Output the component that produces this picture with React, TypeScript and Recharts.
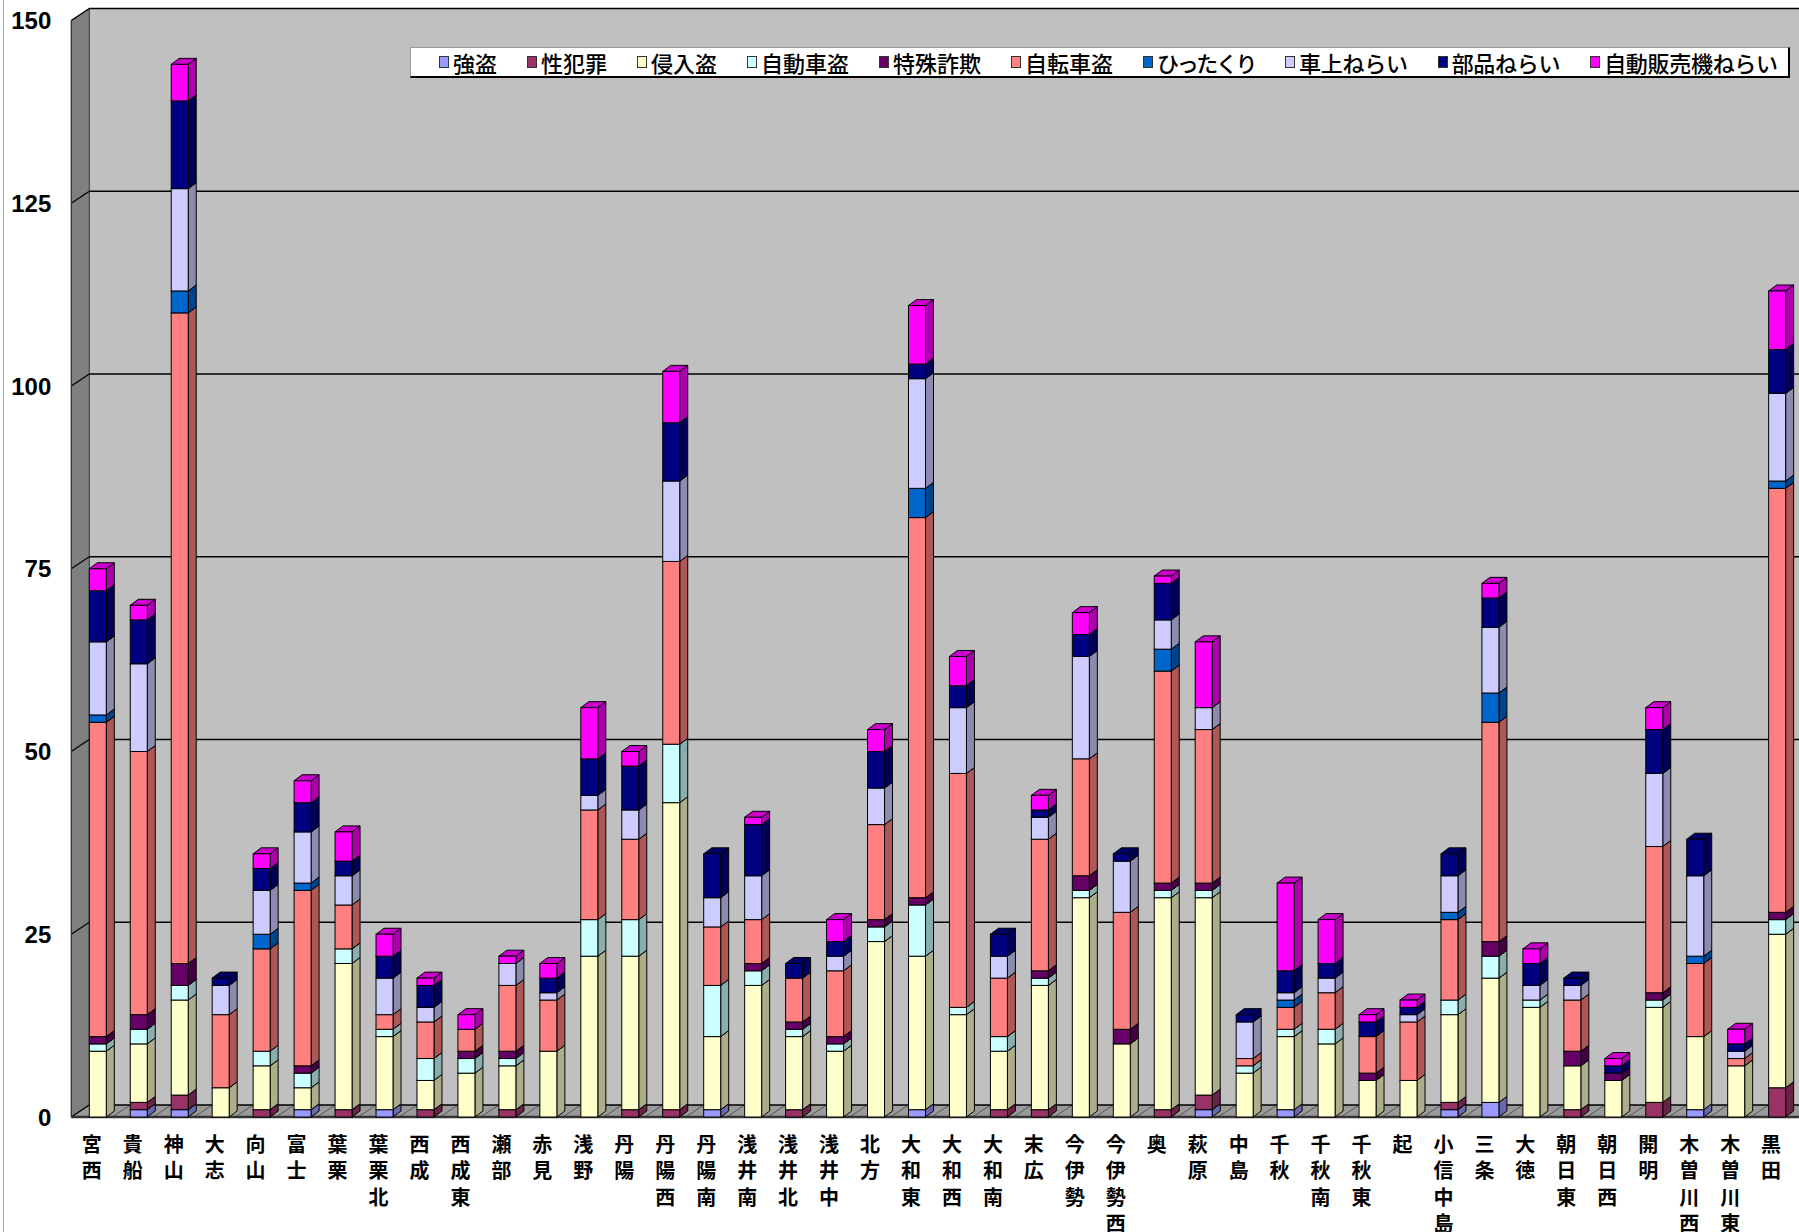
import React from 'react';
import { BarChart, Bar, XAxis, YAxis, ReferenceArea } from 'recharts';

const categories = [
  '宮西', '貴船', '神山', '大志', '向山', '富士', '葉栗', '葉栗北', '西成', '西成東',
  '瀬部', '赤見', '浅野', '丹陽', '丹陽西', '丹陽南', '浅井南', '浅井北', '浅井中', '北方',
  '大和東', '大和西', '大和南', '末広', '今伊勢', '今伊勢西', '奥', '萩原', '中島', '千秋',
  '千秋南', '千秋東', '起', '小信中島', '三条', '大徳', '朝日東', '朝日西', '開明', '木曽川西',
  '木曽川東', '黒田',
];

const seriesNames = ['強盗', '性犯罪', '侵入盗', '自動車盗', '特殊詐欺', '自転車盗', 'ひったくり', '車上ねらい', '部品ねらい', '自動販売機ねらい'];
const seriesColors = ['#9999FF', '#993366', '#FFFFCC', '#CCFFFF', '#660066', '#FF8080', '#0066CC', '#CCCCFF', '#000080', '#FF00FF'];

const robbery =      [0, 1, 1, 0, 0, 1, 0, 1, 0, 0, 0, 0, 0, 0, 0, 1, 0, 0, 0, 0, 1, 0, 0, 0, 0, 0, 0, 1, 0, 1, 0, 0, 0, 1, 2, 0, 0, 0, 0, 1, 0, 0];
const sexCrime =     [0, 1, 2, 0, 1, 0, 1, 0, 1, 0, 1, 0, 0, 1, 1, 0, 0, 1, 0, 0, 0, 0, 1, 1, 0, 0, 1, 2, 0, 0, 0, 0, 0, 1, 0, 0, 1, 0, 2, 0, 0, 4];
const burglary =     [9, 8, 13, 4, 6, 3, 20, 10, 4, 6, 6, 9, 22, 21, 42, 10, 18, 10, 9, 24, 21, 14, 8, 17, 30, 10, 29, 27, 6, 10, 10, 5, 5, 12, 17, 15, 6, 5, 13, 10, 7, 21];
const carTheft =     [1, 2, 2, 0, 2, 2, 2, 1, 3, 2, 1, 0, 5, 5, 8, 7, 2, 1, 1, 2, 7, 1, 2, 1, 1, 0, 1, 1, 1, 1, 2, 0, 0, 2, 3, 1, 0, 0, 1, 0, 0, 2];
const specialFraud = [1, 2, 3, 0, 0, 1, 0, 0, 0, 1, 1, 0, 0, 0, 0, 0, 1, 1, 1, 1, 1, 0, 0, 1, 2, 2, 1, 1, 0, 0, 0, 1, 0, 0, 2, 0, 2, 1, 1, 0, 0, 1];
const bicycleTheft = [43, 36, 89, 10, 14, 24, 6, 2, 5, 3, 9, 7, 15, 11, 25, 8, 6, 6, 9, 13, 52, 32, 8, 18, 16, 16, 29, 21, 1, 3, 5, 5, 8, 11, 30, 0, 7, 0, 20, 10, 1, 58];
const snatching =    [1, 0, 3, 0, 2, 1, 0, 0, 0, 0, 0, 0, 0, 0, 0, 0, 0, 0, 0, 0, 4, 0, 0, 0, 0, 0, 3, 0, 0, 1, 0, 0, 0, 1, 4, 0, 0, 0, 0, 1, 0, 1];
const carBreakIn =   [10, 12, 14, 4, 6, 7, 4, 5, 2, 0, 3, 1, 2, 4, 11, 4, 6, 0, 2, 5, 15, 9, 3, 3, 14, 7, 4, 3, 5, 1, 2, 0, 1, 5, 9, 2, 2, 0, 10, 11, 1, 12];
const partsTheft =   [7, 6, 12, 1, 3, 4, 2, 3, 3, 0, 0, 2, 5, 6, 8, 6, 7, 2, 2, 5, 2, 3, 3, 1, 3, 1, 5, 0, 1, 3, 2, 2, 1, 3, 4, 3, 1, 1, 6, 5, 1, 6];
const vendingTheft = [3, 2, 5, 0, 2, 3, 4, 3, 1, 2, 1, 2, 7, 2, 7, 0, 1, 0, 3, 3, 8, 4, 0, 2, 3, 0, 1, 9, 0, 12, 6, 1, 1, 0, 2, 2, 0, 1, 3, 0, 2, 8];

const seriesValues = [robbery, sexCrime, burglary, carTheft, specialFraud, bicycleTheft, snatching, carBreakIn, partsTheft, vendingTheft];
const yTicks = [0, 25, 50, 75, 100, 125, 150];
const yMax = 150;

const data = categories.map((name, i) => {
  const row: Record<string, any> = { name };
  seriesValues.forEach((arr, s) => { row['s' + s] = arr[i]; });
  return row;
});

const DX = 8;
const DY = 6;
const SHIFT = 6;
const WALL_DX = 18;
const WALL_DY = 12;

function shade(hex: string, f: number) {
  const n = parseInt(hex.slice(1), 16);
  const r = Math.round(((n >> 16) & 255) * f);
  const g = Math.round(((n >> 8) & 255) * f);
  const b = Math.round((n & 255) * f);
  return `rgb(${r},${g},${b})`;
}

const Bar3D = (props: any) => {
  const { x, y, width, height, fill } = props;
  if (!height || height <= 0.01) return <g />;
  const x0 = x + SHIFT;
  const x1 = x0 + width;
  const yt = y;
  const yb = y + height;
  return (
    <g>
      <polygon
        points={`${x1},${yb} ${x1 + DX},${yb - DY} ${x1 + DX},${yt - DY} ${x1},${yt}`}
        fill={shade(fill, 0.68)}
        stroke="#000"
        strokeWidth={1}
      />
      <polygon
        points={`${x0},${yt} ${x0 + DX},${yt - DY} ${x1 + DX},${yt - DY} ${x1},${yt}`}
        fill={shade(fill, 0.8)}
        stroke="#000"
        strokeWidth={1}
      />
      <rect x={x0} y={yt} width={width} height={height} fill={fill} stroke="#000" strokeWidth={1} />
    </g>
  );
};

const Walls = (props: any) => {
  const { x, y, width, height } = props;
  const bottom = y + height;
  const right = x + width + 60;
  const n = categories.length;
  const band = width / n;
  return (
    <g>
      <rect x={x + WALL_DX} y={y - WALL_DY} width={right - x - WALL_DX} height={height} fill="#C0C0C0" />
      <polygon
        points={`${x},${y} ${x + WALL_DX},${y - WALL_DY} ${x + WALL_DX},${bottom - WALL_DY} ${x},${bottom}`}
        fill="#808080"
        stroke="#333"
        strokeWidth={1}
      />
      <polygon
        points={`${x},${bottom} ${x + WALL_DX},${bottom - WALL_DY} ${right},${bottom - WALL_DY} ${right},${bottom}`}
        fill="#9a9a9a"
      />
      {categories.map((c, i) => {
        const xb = x + i * band;
        return <line key={'f' + i} x1={xb} y1={bottom} x2={xb + WALL_DX} y2={bottom - WALL_DY} stroke="#555" strokeWidth={1} />;
      })}
      {yTicks.map((v) => {
        const yf = bottom - (height * v) / yMax;
        return (
          <g key={'g' + v}>
            <line x1={x} y1={yf} x2={x + WALL_DX} y2={yf - WALL_DY} stroke="#000" strokeWidth={1.2} />
            <line x1={x + WALL_DX} y1={yf - WALL_DY} x2={right} y2={yf - WALL_DY} stroke="#000" strokeWidth={1.6} />
          </g>
        );
      })}
      <line x1={x} y1={bottom} x2={right} y2={bottom} stroke="#333" strokeWidth={2.5} />
      <line x1={x} y1={y} x2={x} y2={bottom} stroke="#333" strokeWidth={1} />
    </g>
  );
};

const CategoryTick = (props: any) => {
  const { x, y, payload } = props;
  const chars = Array.from(String(payload.value));
  return (
    <g>
      {chars.map((ch, i) => (
        <text
          key={i}
          x={x}
          y={y + 35 + i * 26.3}
          textAnchor="middle"
          fontSize={20}
          fontWeight="bold"
          fontFamily="'Noto Sans CJK JP', sans-serif"
          fill="#000"
        >
          {ch}
        </text>
      ))}
    </g>
  );
};

const hasKana = (s: string) => /[\u3040-\u309F]/.test(s);

export default function App() {
  return (
    <div style={{ position: 'relative', width: 1799, height: 1232, background: '#fff', overflow: 'hidden' }}>
      <style>{`body{margin:0;}`}</style>
      <div style={{ position: 'absolute', left: 3, top: 0, width: 1, height: 1232, background: '#aaa' }} />
      <BarChart
        width={1799}
        height={1232}
        data={data}
        margin={{ top: 20.5, right: 7.4, left: 0, bottom: 0 }}
        barSize={17}
      >
        <ReferenceArea y1={0} y2={yMax} ifOverflow="visible" shape={<Walls />} />
        <XAxis
          dataKey="name"
          interval={0}
          tickLine={false}
          axisLine={false}
          tickSize={0}
          tickMargin={0}
          height={115}
          tick={<CategoryTick />}
        />
        <YAxis
          domain={[0, yMax]}
          ticks={yTicks}
          width={71.3}
          tickLine={false}
          axisLine={false}
          tickSize={0}
          tickMargin={20}
          tick={{ fontSize: 24, fontWeight: 'bold', fill: '#000', fontFamily: "'Liberation Sans', Arial, sans-serif" }}
        />
        {seriesNames.map((name, s) => (
          <Bar
            key={name}
            dataKey={'s' + s}
            name={name}
            stackId="a"
            fill={seriesColors[s]}
            isAnimationActive={false}
            shape={<Bar3D />}
          />
        ))}
      </BarChart>
      <div
        style={{
          position: 'absolute',
          left: 410,
          top: 47,
          width: 1380,
          height: 31,
          background: '#fff',
          borderTop: '1px solid #999',
          borderLeft: '1px solid #999',
          borderRight: '2px solid #000',
          borderBottom: '2px solid #000',
          boxSizing: 'border-box',
          display: 'flex',
          alignItems: 'center',
          paddingLeft: 28,
          whiteSpace: 'nowrap',
          fontFamily: "'Noto Sans CJK JP', sans-serif",
          fontSize: 22,
          fontWeight: 500,
          color: '#000',
          lineHeight: '26px',
        }}
      >
        {seriesNames.map((n, i) => (
          <span key={n} style={{ display: 'inline-flex', alignItems: 'center', marginRight: 30 }}>
            <span
              style={{
                display: 'inline-block',
                width: 8,
                height: 10,
                background: seriesColors[i],
                border: '1px solid #333',
                marginRight: 4,
              }}
            />
            <span style={n === 'ひったくり' ? { letterSpacing: '-2.4px' } : hasKana(n) ? { letterSpacing: '-0.3px' } : undefined}>{n}</span>
          </span>
        ))}
      </div>
    </div>
  );
}
